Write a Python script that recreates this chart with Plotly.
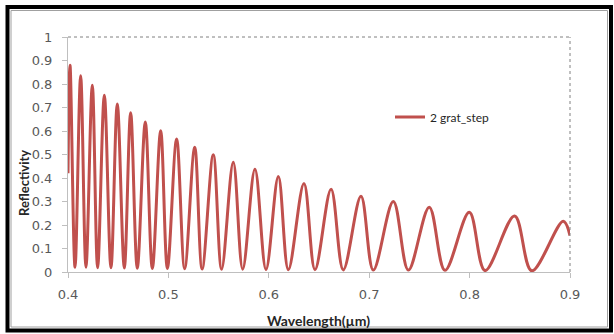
import plotly.graph_objects as go

# Peaks and troughs (wavelength in µm, reflectivity)
start_wl = [0.400]
start_r = [0.42]
peak_wl = [0.4020, 0.4126, 0.4242, 0.4362, 0.4491, 0.4624, 0.4770, 0.4923, 0.5082, 0.5262,
           0.5447, 0.5646, 0.5862, 0.6095, 0.6350, 0.6620, 0.6918, 0.7240, 0.7598, 0.7997,
           0.8448, 0.8933]
peak_r = [0.880, 0.835, 0.795, 0.752, 0.715, 0.678, 0.638, 0.601, 0.566, 0.531,
          0.499, 0.467, 0.437, 0.406, 0.377, 0.352, 0.322, 0.300, 0.276, 0.254,
          0.238, 0.216]
trough_wl = [0.4070, 0.4179, 0.4295, 0.4428, 0.4561, 0.4690, 0.4840, 0.4990, 0.5162, 0.5336,
             0.5530, 0.5740, 0.5972, 0.6195, 0.6460, 0.6742, 0.7041, 0.7390, 0.7755, 0.8154,
             0.8619]
trough_r = [0.020, 0.020, 0.018, 0.018, 0.017, 0.016, 0.015, 0.015, 0.014, 0.013,
            0.012, 0.012, 0.011, 0.010, 0.010, 0.009, 0.008, 0.008, 0.007, 0.006,
            0.005]
end_wl = [0.900]
end_r = [0.155]

y_ticks = [0, 0.1, 0.2, 0.3, 0.4, 0.5, 0.6, 0.7, 0.8, 0.9, 1]
y_labels = ["0", "0.1", "0.2", "0.3", "0.4", "0.5", "0.6", "0.7", "0.8", "0.9", "1"]
x_ticks = [0.4, 0.5, 0.6, 0.7, 0.8, 0.9]
x_labels = ["0.4", "0.5", "0.6", "0.7", "0.8", "0.9"]

pts = sorted(zip(start_wl + peak_wl + trough_wl + end_wl,
                 start_r + peak_r + trough_r + end_r))
wl = [p[0] for p in pts]
refl = [p[1] for p in pts]

W, H = 614, 334
L, R, T, B = 68, 44, 37, 62
pw, ph = W - L - R, H - T - B


def px(x):
    return (x - L) / pw


def py(y):
    return (H - B - y) / ph


fig = go.Figure()
fig.add_trace(go.Scatter(
    x=wl, y=refl, mode="lines", name="2 grat_step",
    line=dict(color="#C0504D", width=3, shape="spline", smoothing=1.0),
))

tick_font = dict(family="DejaVu Sans", size=13, color="#595959")
fig.update_layout(
    width=W, height=H,
    margin=dict(l=L, r=R, t=T, b=B, autoexpand=False),
    paper_bgcolor="white", plot_bgcolor="white",
    showlegend=True,
    legend=dict(x=px(390), y=py(117), xanchor="left", yanchor="middle",
                bgcolor="rgba(0,0,0,0)", borderwidth=0,
                font=dict(family="Lato", size=12, color="#262626")),
    xaxis=dict(range=[0.4, 0.9], tickvals=x_ticks, ticktext=x_labels,
               showgrid=False, zeroline=False, showline=True, linecolor="#BFBFBF",
               linewidth=1, ticks="outside", ticklen=5, tickcolor="#BFBFBF",
               tickfont=tick_font, ticklabelstandoff=5, fixedrange=True),
    yaxis=dict(range=[0, 1], tickvals=y_ticks, ticktext=y_labels,
               showgrid=False, zeroline=False, showline=True, linecolor="#BFBFBF",
               linewidth=1, ticks="outside", ticklen=5, tickcolor="#BFBFBF",
               tickfont=tick_font, ticklabelstandoff=7, fixedrange=True),
    font=dict(family="DejaVu Sans"),
)

# dotted top/right border of plot area
fig.add_shape(type="line", xref="paper", yref="paper", x0=0, x1=1, y0=1, y1=1,
              line=dict(color="#808080", width=1, dash="dot"))
fig.add_shape(type="line", xref="paper", yref="paper", x0=1, x1=1, y0=0, y1=1,
              line=dict(color="#808080", width=1, dash="dot"))
# outer frame
fig.add_shape(type="rect", xref="paper", yref="paper",
              x0=px(7.5), x1=px(611), y0=py(330.5), y1=py(7),
              line=dict(color="black", width=4), layer="below")
fig.add_shape(type="rect", xref="paper", yref="paper",
              x0=px(11), x1=px(607.5), y0=py(327), y1=py(10.5),
              line=dict(color="#A0A0A0", width=1), layer="below")

fig.add_annotation(text="<b>Wavelength(µm)</b>", xref="paper", yref="paper",
                   x=px(318), y=py(320), xanchor="center", yanchor="middle",
                   showarrow=False,
                   font=dict(family="Lato", size=14, color="#262626"))
fig.add_annotation(text="<b>Reflectivity</b>", xref="paper", yref="paper",
                   x=px(24), y=py(183), xanchor="center", yanchor="middle",
                   showarrow=False, textangle=-90,
                   font=dict(family="Lato", size=13, color="#262626"))

fig.write_html("out.html", config={"displayModeBar": False},
               post_script="document.body.style.margin='0';document.body.style.overflow='hidden';")
